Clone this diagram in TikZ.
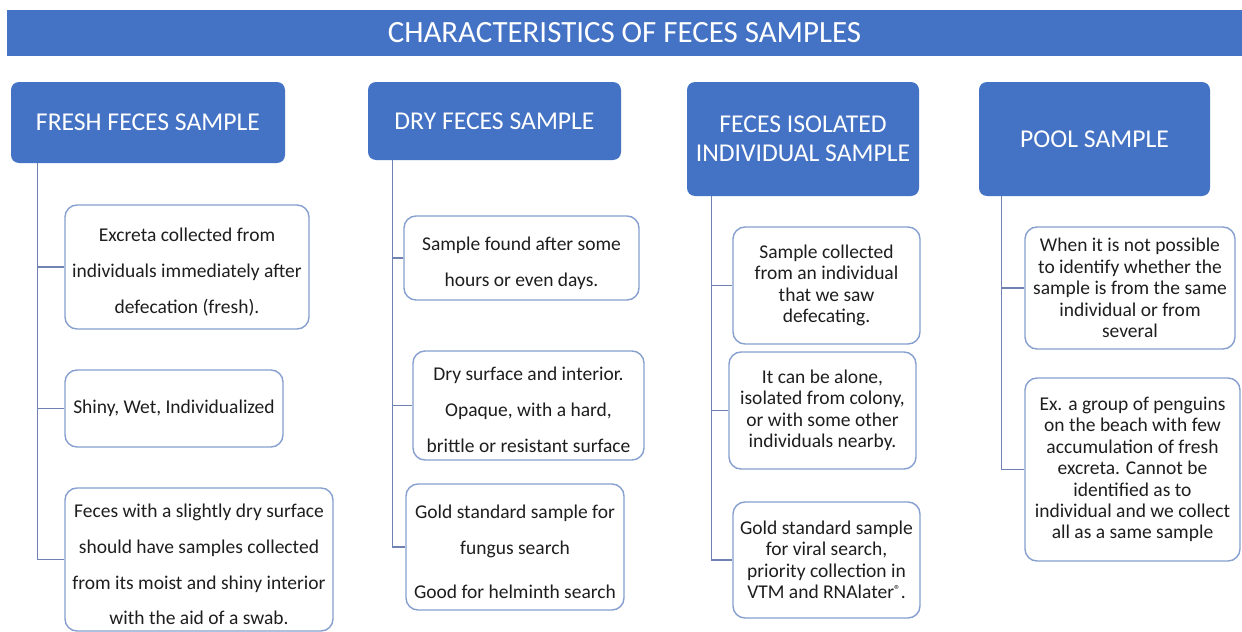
\documentclass[tikz,border=0pt]{standalone}
\usepackage{fontspec}
\setmainfont{Carlito}
\usetikzlibrary{calc}
\newlength\pxu \setlength\pxu{0.02cm}
\definecolor{hdrblue}{HTML}{4472C4}
\definecolor{boxedge}{RGB}{135,160,208}
\definecolor{stem}{RGB}{112,130,178}
\definecolor{ink}{RGB}{30,30,30}
\begin{document}
\begin{tikzpicture}[x=0.02cm,y=-0.02cm,
  header/.style={fill=hdrblue, text=white, rounded corners=8\pxu, align=center,
    inner sep=0pt, font=\fontsize{14.6}{16.4}\selectfont},
  note/.style={draw=boxedge, line width=1.4\pxu, fill=white, rounded corners=12\pxu,
    align=center, inner sep=0pt, text=ink},
  wide/.style={note, font=\fontsize{11.1}{20.4}\selectfont},
  % text set with 1.5 line spacing sits a little below the box centre
  widetext/.style={align=center, inner sep=0pt, text=ink,
    font=\fontsize{11.1}{20.4}\selectfont},
  tight/.style={note, font=\fontsize{11.1}{12.2}\selectfont},
  stemline/.style={draw=stem, line width=1.5\pxu},
  sz/.style 2 args={minimum width=#1\pxu, minimum height=#2\pxu}
]
\useasboundingbox[fill=white] (0,0) rectangle (1242,632);

% title bar
\node[fill=hdrblue, text=white, inner sep=0pt, sz={1235}{46},
      font=\fontsize{17.6}{20}\selectfont] (title) at (624.5,33)
  {CHARACTERISTICS OF FECES SAMPLES};

% column headers
\node[header, sz={274}{81}]  (FH) at (148,122.5) {FRESH FECES SAMPLE};
\node[header, sz={253}{78}]  (DH) at (494.5,121) {DRY FECES SAMPLE};
\node[header, sz={232}{114}] (IH) at (803,139) {FECES ISOLATED\\INDIVIDUAL SAMPLE};
\node[header, sz={231}{114}] (PH) at (1094.5,139) {POOL SAMPLE};

% fresh sample notes
\node[wide, sz={244}{124}] (F1) at (187,267) {};
\node[widetext] (F1t) at ($(F1.center)+(0,5)$)
  {Excreta collected from\\individuals immediately after\\defecation (fresh).};
\node[wide, sz={218}{77}] (F2) at (174,408.5) {Shiny, Wet, Individualized};
\node[wide, sz={268}{143}] (F3) at (199,559.5) {};
\node[widetext] (F3t) at ($(F3.center)+(0,5)$)
  {Feces with a slightly dry surface\\should have samples collected\\from its moist and shiny interior\\with the aid of a swab.};

% dry sample notes
\node[wide, sz={235}{84}] (D1) at (521.5,258) {};
\node[widetext] (D1t) at ($(D1.center)+(0,5)$)
  {Sample found after some\\hours or even days.};
\node[wide, sz={231}{109}] (D2) at (528.5,405.5) {};
\node[widetext] (D2t) at ($(D2.center)+(0,4.5)$)
  {Dry surface and interior.\\Opaque, with a hard,\\brittle or resistant surface};
\node[wide, sz={218}{126}] (D3) at (515,547) {};
\node[widetext] (D3t) at ($(D3.center)+(0,5)$)
  {Gold standard sample for\\fungus search\\[4.5pt]Good for helminth search};

% isolated individual notes
\node[tight, sz={187}{117}] (I1) at (826.5,285.5)
  {Sample collected\\from an individual\\that we saw\\defecating.};
\node[tight, sz={187}{117}] (I2) at (822.5,410.5)
  {It can be alone,\\isolated from colony,\\or with some other\\individuals nearby.};
\node[tight, sz={187}{116}] (I3) at (826.5,560)
  {Gold standard sample\\for viral search,\\priority collection in\\VTM and RNAlater\raisebox{0.45ex}{\fontsize{7.5}{7.5}\selectfont ®}.};

% pool notes
\node[tight, sz={210}{122}] (P1) at (1130,288)
  {When it is not possible\\to identify whether the\\sample is from the same\\individual or from\\several};
\node[tight, sz={215}{183}] (P2) at (1132.5,469.5)
  {Ex. a group of penguins\\on the beach with few\\accumulation of fresh\\excreta. Cannot be\\identified as to\\individual and we collect\\all as a same sample};

% tree connectors
\foreach \n in {F1,F2,F3}
  \draw[stemline] ($(FH.south west)+(27,0)$) |- (\n.west);
\foreach \n in {D1,D2,D3}
  \draw[stemline] ($(DH.south west)+(25,0)$) |- (\n.west);
\foreach \n in {I1,I2,I3}
  \draw[stemline] ($(IH.south west)+(25,0)$) |- (\n.west);
\foreach \n in {P1,P2}
  \draw[stemline] ($(PH.south west)+(23,0)$) |- (\n.west);
\end{tikzpicture}
\end{document}
